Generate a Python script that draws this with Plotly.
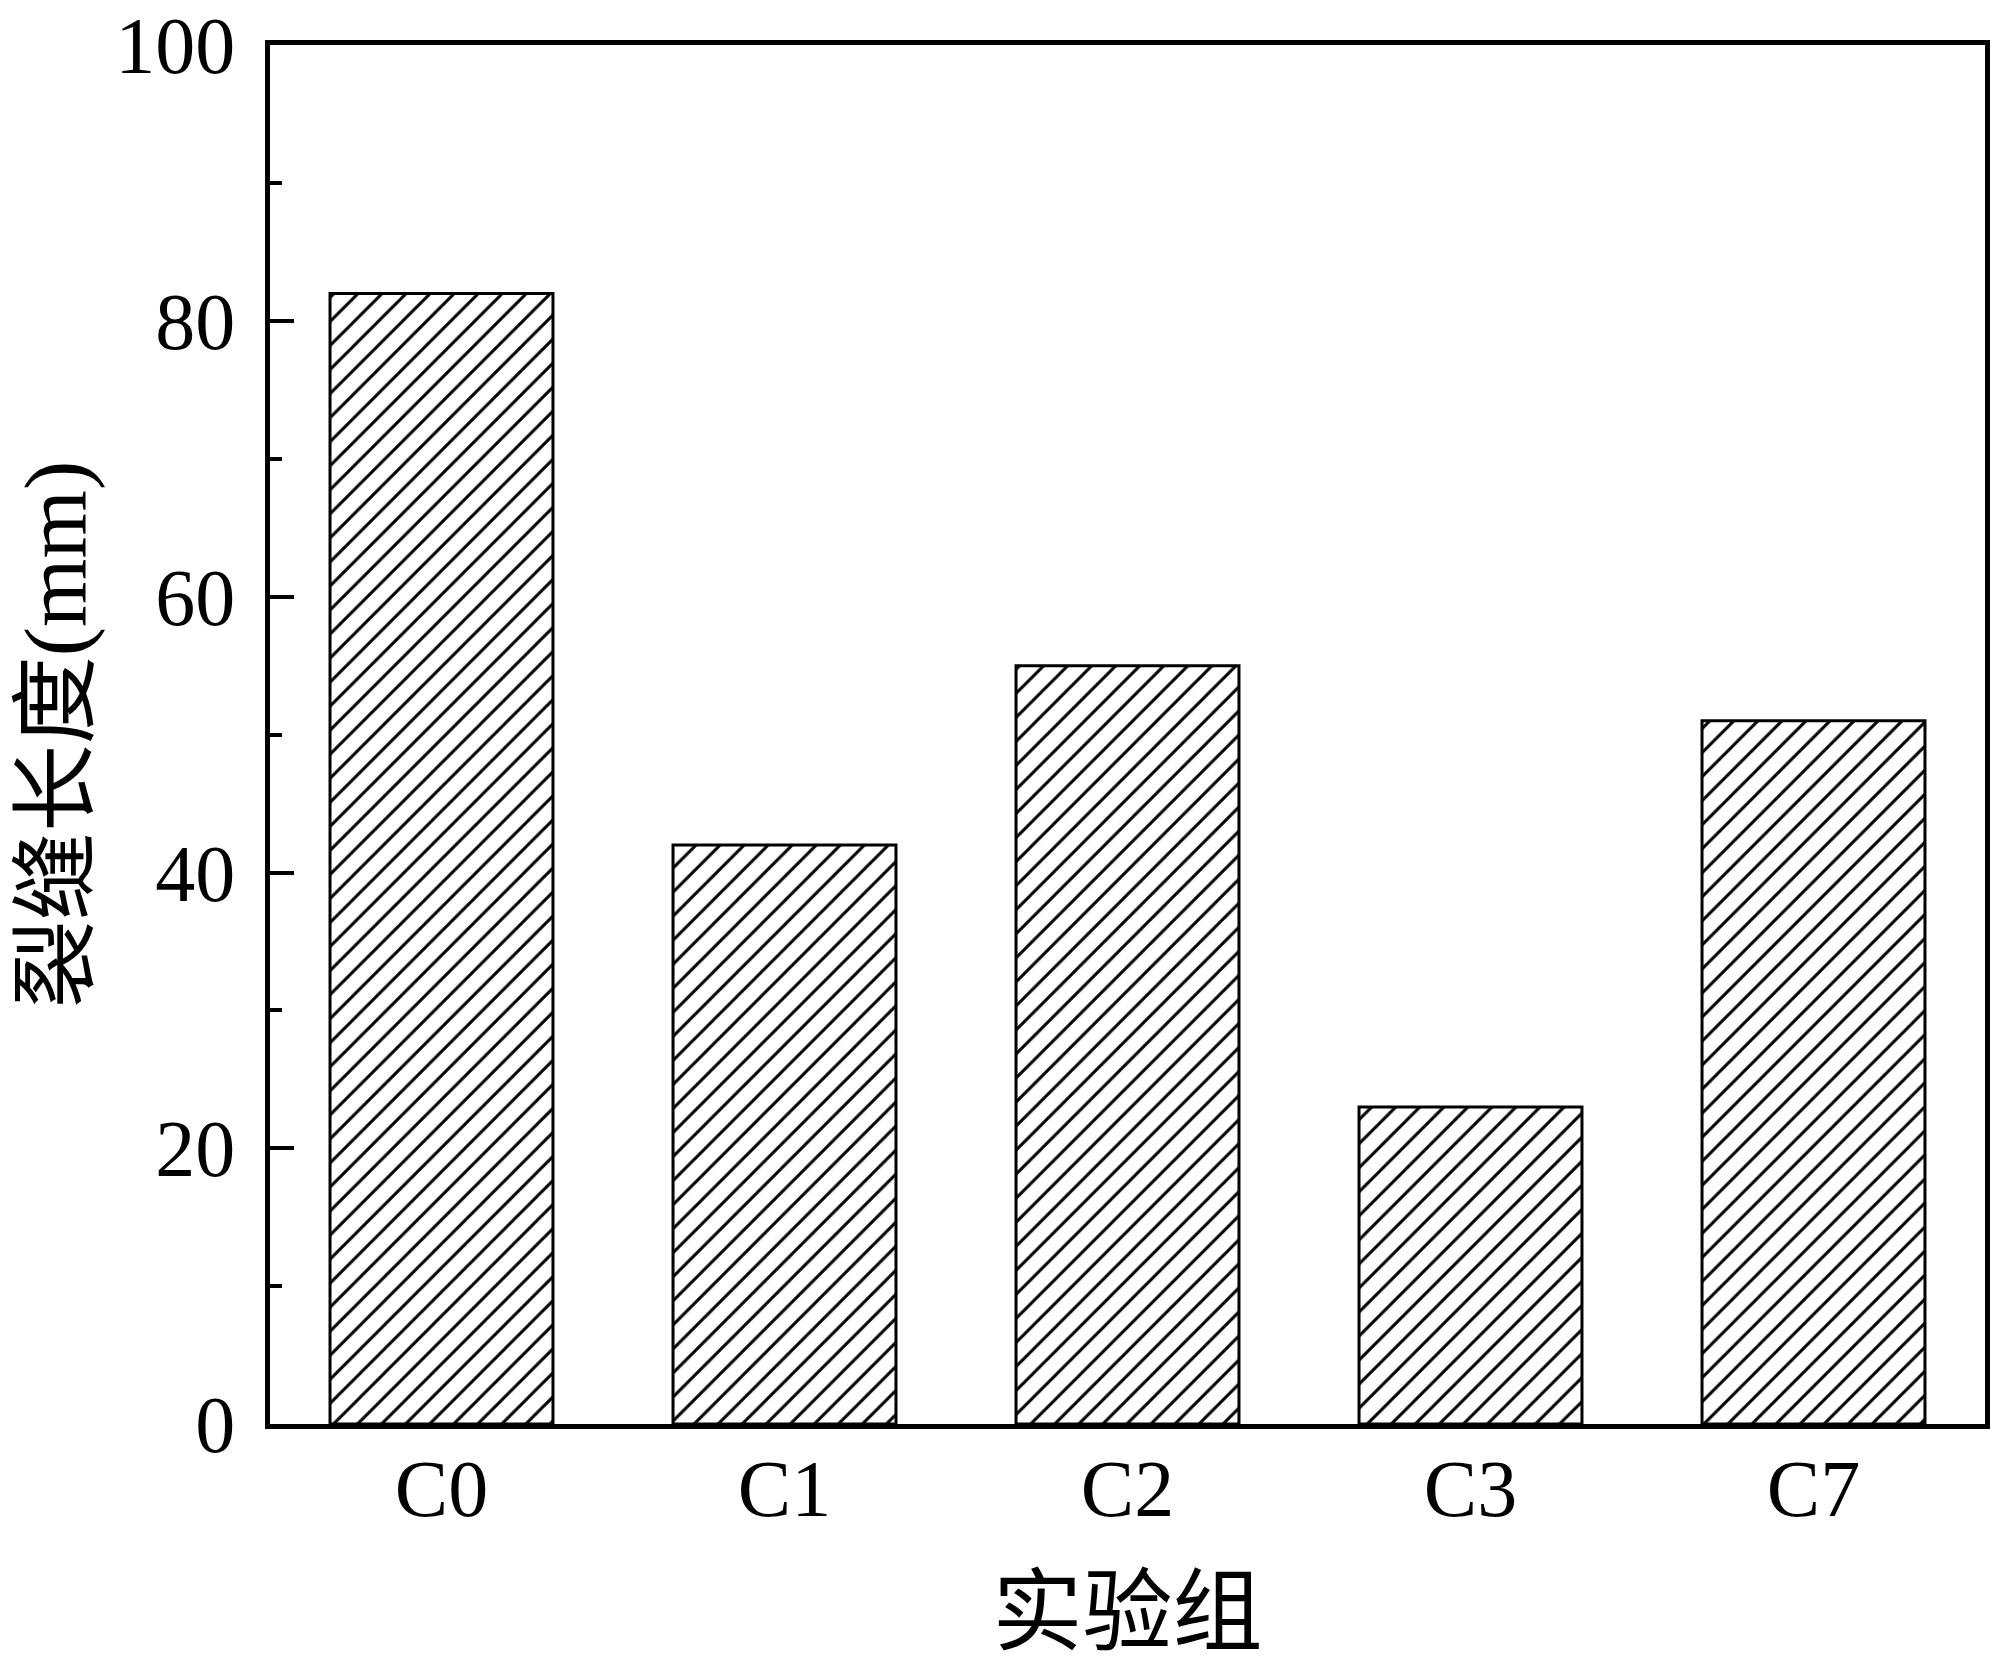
import plotly.graph_objects as go

categories = ["C0", "C1", "C2", "C3", "C7"]
crack_length = [82, 42, 55, 23, 51]
y_tick_vals = [0, 20, 40, 60, 80, 100]
x_title = "实验组"
y_title = "裂缝长度(mm)"

FONT = "Liberation Serif, Noto Sans CJK SC, serif"

fig = go.Figure()
fig.add_trace(go.Bar(
    x=categories,
    y=crack_length,
    width=0.65,
    marker=dict(
        color="white",
        line=dict(color="black", width=3),
        pattern=dict(shape="/", size=17, solidity=0.18,
                     fgcolor="black", bgcolor="white", fillmode="replace"),
    ),
    showlegend=False,
))

fig.update_layout(
    width=2000, height=1672,
    margin=dict(l=262, r=23, t=37, b=256),
    paper_bgcolor="white", plot_bgcolor="white",
    font=dict(family=FONT, color="black", size=80),
)
fig.update_xaxes(
    range=[-0.5, 4.5], automargin=False,
    showline=True, linecolor="black", linewidth=4.5, mirror=True,
    ticks="", showgrid=False, zeroline=False,
    tickfont=dict(family=FONT, size=80),
    ticklabelstandoff=-9,
    title=dict(text=x_title, font=dict(family=FONT, size=90), standoff=50),
)
fig.update_yaxes(
    range=[0, 100.02], automargin=False,
    tickvals=y_tick_vals,
    ticklabeloverflow="allow",
    showline=True, linecolor="black", linewidth=4.5, mirror=True,
    ticks="inside", ticklen=24, tickwidth=4, tickcolor="black",
    minor=dict(dtick=10, ticks="inside", ticklen=12, tickwidth=4, tickcolor="black", showgrid=False),
    showgrid=False, zeroline=False,
    tickfont=dict(family=FONT, size=80),
    ticklabelstandoff=14,
    title=dict(text=y_title, font=dict(family=FONT, size=88), standoff=42),
)

fig.write_html("out.html")
